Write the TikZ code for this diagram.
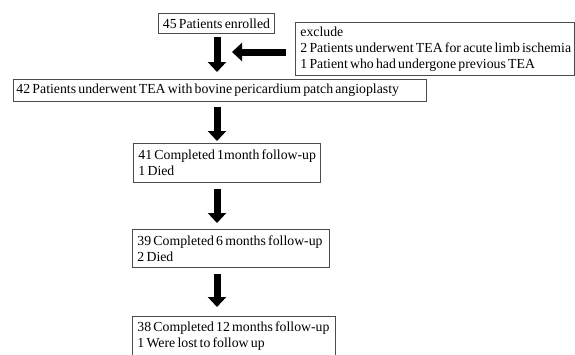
\documentclass[tikz,border=0pt]{standalone}
\usepackage{fontspec}
\setmainfont{Liberation Serif}
\usetikzlibrary{arrows.meta}
\newcommand\tightsp{\spaceskip=0.16em plus 0.05em\relax}
\begin{document}
\begin{tikzpicture}[x=1pt,y=-1pt,
  box/.style={draw=black!70, line width=0.9pt, anchor=north west, inner xsep=5pt, inner ysep=0pt,
    align=left, font=\fontsize{13.8}{16}\selectfont},
  blk/.style={line width=7pt, -{Triangle[width=18pt,length=10pt]}}]
\useasboundingbox (0,0) rectangle (575,354);
\node[box, align=center, inner xsep=2pt, text width=112pt, minimum height=20pt] (b45) at (158,13) {\tightsp\mbox{45 Patients enrolled}};
\node[box, text width=269pt, minimum height=53pt] (bex) at (295,22) {\tightsp\mbox{exclude}\\\mbox{2 Patients underwent TEA for acute limb ischemia}\\\mbox{1 Patient who had undergone previous TEA}};
\node[box, inner xsep=3.5pt, text width=406.5pt, minimum height=22.5pt] (b42) at (12.5,78.5) {\tightsp\mbox{42 Patients underwent TEA with bovine pericardium patch angioplasty}};
\node[box, text width=177pt, minimum height=39pt] (b41) at (133,143) {\tightsp\mbox{41 Completed 1month follow-up}\\\mbox{1 Died}};
\node[box, text width=187pt, minimum height=38pt] (b39) at (132,229) {\tightsp\mbox{39 Completed 6 months follow-up}\\\mbox{2 Died}};
\node[box, text width=193pt, minimum height=40pt] (b38) at (132,316) {\tightsp\mbox{38 Completed 12 months follow-up}\\\mbox{1 Were lost to follow up}};
\coordinate (m) at (217,52);
\coordinate (ax) at (217,0);
\draw[blk, shorten <=3pt, shorten >=6.5pt] (b45.south -| ax) -- (b42.north -| ax);
\draw[blk, shorten <=9pt, shorten >=15pt] (bex.west |- m) -- (m);
\draw[blk, shorten <=5pt, shorten >=2pt] (b42.south -| ax) -- (b41.north -| ax);
\draw[blk, shorten <=6pt, shorten >=6pt] (b41.south -| ax) -- (b39.north -| ax);
\draw[blk, shorten <=6pt, shorten >=9pt] (b39.south -| ax) -- (b38.north -| ax);
\end{tikzpicture}
\end{document}
